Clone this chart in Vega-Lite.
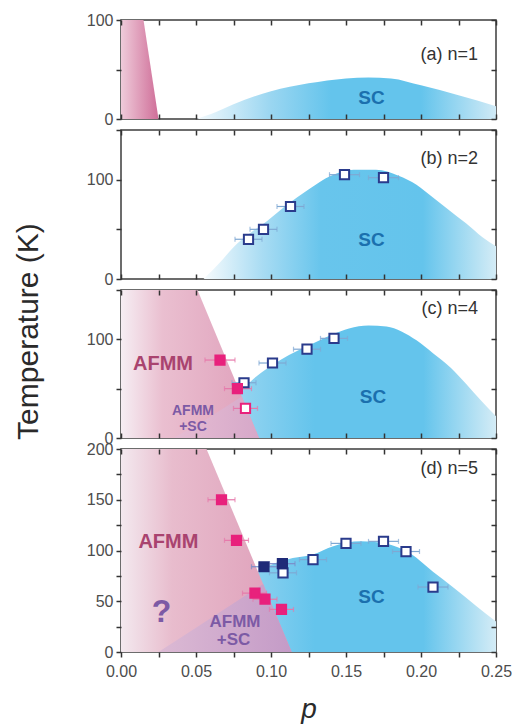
{
"$schema": "https://vega.github.io/schema/vega-lite/v6.json",
"padding": {"left": 12, "top": 11, "right": 0, "bottom": 5},
"background": "white",
"spacing": 11,
"bounds": "flush",
"config": {
  "font": "Liberation Sans",
  "view": {"stroke": "#3c3c3c", "strokeWidth": 1.5},
  "axis": {"domain": false, "grid": false, "ticks": true, "labelFont": "Liberation Sans", "labelFontSize": 16, "labelColor": "#4d4d4d", "tickColor": "#333333", "tickOpacity": 1, "tickWidth": 1.5, "tickSize": 5, "offset": 0, "zindex": 2, "labelFlush": false, "labelOverlap": false, "labelBound": false, "titleFont": "Liberation Sans"},
  "text": {"font": "Liberation Sans"}
},
"datasets": {
  "pinkA": [{"p": 0, "T": 100}, {"p": 0.015, "T": 100}, {"p": 0.025, "T": 0}],
  "scA": [{"p": 0.05, "T": 0}, {"p": 0.06, "T": 5}, {"p": 0.075, "T": 15}, {"p": 0.1, "T": 28}, {"p": 0.125, "T": 36}, {"p": 0.15, "T": 41}, {"p": 0.165, "T": 42}, {"p": 0.18, "T": 41}, {"p": 0.2, "T": 34}, {"p": 0.225, "T": 24}, {"p": 0.25, "T": 13}],
  "scB": [{"p": 0.055, "T": 0}, {"p": 0.065, "T": 15}, {"p": 0.075, "T": 32}, {"p": 0.085, "T": 45}, {"p": 0.097, "T": 58}, {"p": 0.11, "T": 74}, {"p": 0.125, "T": 90}, {"p": 0.14, "T": 104}, {"p": 0.155, "T": 110}, {"p": 0.17, "T": 110}, {"p": 0.185, "T": 104}, {"p": 0.197, "T": 95}, {"p": 0.208, "T": 82}, {"p": 0.219, "T": 69}, {"p": 0.23, "T": 56}, {"p": 0.241, "T": 42}, {"p": 0.25, "T": 33}],
  "scC": [{"p": 0.03, "T": 0}, {"p": 0.06, "T": 25}, {"p": 0.08, "T": 48}, {"p": 0.09, "T": 62}, {"p": 0.101, "T": 74}, {"p": 0.112, "T": 84}, {"p": 0.124, "T": 93}, {"p": 0.141, "T": 105}, {"p": 0.152, "T": 111}, {"p": 0.165, "T": 114}, {"p": 0.177, "T": 113}, {"p": 0.187, "T": 108}, {"p": 0.197, "T": 99}, {"p": 0.208, "T": 86}, {"p": 0.22, "T": 71}, {"p": 0.23, "T": 55}, {"p": 0.24, "T": 38}, {"p": 0.25, "T": 22}],
  "pinkC": [{"p": 0, "T": 150}, {"p": 0.051, "T": 150}, {"p": 0.092, "T": 0}],
  "mixC": [{"p": 0.035, "T": 0}, {"p": 0.058, "T": 20}, {"p": 0.0805, "T": 42}, {"p": 0.092, "T": 0}],
  "scD": [{"p": 0.03, "T": 0}, {"p": 0.06, "T": 30}, {"p": 0.085, "T": 70}, {"p": 0.095, "T": 82}, {"p": 0.11, "T": 91}, {"p": 0.128, "T": 96}, {"p": 0.141, "T": 104}, {"p": 0.16, "T": 109}, {"p": 0.176, "T": 107}, {"p": 0.193, "T": 97}, {"p": 0.208, "T": 79}, {"p": 0.222, "T": 63}, {"p": 0.237, "T": 45}, {"p": 0.25, "T": 30}],
  "pinkD": [{"p": 0, "T": 200}, {"p": 0.057, "T": 200}, {"p": 0.1138, "T": 0}],
  "mixD": [{"p": 0.025, "T": 0}, {"p": 0.05, "T": 24}, {"p": 0.073, "T": 46}, {"p": 0.0948, "T": 67}, {"p": 0.1138, "T": 0}],
  "ptsB": [
    {"p": 0.085, "T": 40, "lo": 0.076, "hi": 0.094, "kind": "open"},
    {"p": 0.095, "T": 50, "lo": 0.086, "hi": 0.104, "kind": "open"},
    {"p": 0.113, "T": 73, "lo": 0.104, "hi": 0.122, "kind": "open"},
    {"p": 0.149, "T": 105, "lo": 0.139, "hi": 0.159, "kind": "open"},
    {"p": 0.175, "T": 102, "lo": 0.165, "hi": 0.185, "kind": "open"}
  ],
  "ptsC": [
    {"p": 0.082, "T": 56, "lo": 0.074, "hi": 0.09, "kind": "open"},
    {"p": 0.101, "T": 76, "lo": 0.092, "hi": 0.11, "kind": "open"},
    {"p": 0.124, "T": 90, "lo": 0.115, "hi": 0.133, "kind": "open"},
    {"p": 0.142, "T": 101, "lo": 0.133, "hi": 0.151, "kind": "open"},
    {"p": 0.066, "T": 79, "lo": 0.056, "hi": 0.076, "kind": "pink"},
    {"p": 0.0776, "T": 50, "lo": 0.069, "hi": 0.087, "kind": "pink"},
    {"p": 0.083, "T": 30, "lo": 0.075, "hi": 0.091, "kind": "wp"}
  ],
  "ptsD": [
    {"p": 0.067, "T": 150, "lo": 0.058, "hi": 0.076, "kind": "pink"},
    {"p": 0.077, "T": 110, "lo": 0.069, "hi": 0.085, "kind": "pink"},
    {"p": 0.0893, "T": 58, "lo": 0.081, "hi": 0.097, "kind": "pink"},
    {"p": 0.096, "T": 52, "lo": 0.088, "hi": 0.104, "kind": "pink"},
    {"p": 0.107, "T": 42, "lo": 0.099, "hi": 0.115, "kind": "pink"},
    {"p": 0.108, "T": 78, "lo": 0.099, "hi": 0.117, "kind": "open"},
    {"p": 0.128, "T": 91, "lo": 0.119, "hi": 0.137, "kind": "open"},
    {"p": 0.15, "T": 107, "lo": 0.14, "hi": 0.16, "kind": "open"},
    {"p": 0.175, "T": 109, "lo": 0.165, "hi": 0.185, "kind": "open"},
    {"p": 0.19, "T": 99, "lo": 0.181, "hi": 0.199, "kind": "open"},
    {"p": 0.208, "T": 64, "lo": 0.198, "hi": 0.218, "kind": "open"},
    {"p": 0.0953, "T": 84, "lo": 0.087, "hi": 0.104, "kind": "navy"},
    {"p": 0.1076, "T": 87, "lo": 0.099, "hi": 0.116, "kind": "navy"}
  ],
  "txtA": [{"p": 0.238, "T": 65, "text": "(a) n=1", "s": "lab"}, {"p": 0.167, "T": 21, "text": "SC", "s": "sc"}],
  "txtB": [{"p": 0.238, "T": 121, "text": "(b) n=2", "s": "lab"}, {"p": 0.167, "T": 39, "text": "SC", "s": "sc"}],
  "txtC": [{"p": 0.238, "T": 131, "text": "(c) n=4", "s": "lab"}, {"p": 0.168, "T": 42, "text": "SC", "s": "sc"}, {"p": 0.028, "T": 75, "text": "AFMM", "s": "af"}, {"p": 0.048, "T": 27, "text": "AFMM", "s": "mix"}, {"p": 0.048, "T": 11, "text": "+SC", "s": "mix"}],
  "txtD": [{"p": 0.238, "T": 180, "text": "(d) n=5", "s": "lab"}, {"p": 0.167, "T": 54, "text": "SC", "s": "sc"}, {"p": 0.0316, "T": 108, "text": "AFMM", "s": "af"}, {"p": 0.076, "T": 30, "text": "AFMM", "s": "mix2"}, {"p": 0.075, "T": 12, "text": "+SC", "s": "mix2"}, {"p": 0.027, "T": 39, "text": "?", "s": "q"}],
  "dummy": [{"p": 0.1, "T": 10}]
},
"vconcat": [
  {
    "width": 375, "height": 99,
    "resolve": {"axis": {"x": "independent", "y": "independent"}},
    "layer": [
      {
        "encoding": {
          "x": {"field": "p", "type": "quantitative", "title": null, "scale": {"domain": [0, 0.25], "nice": false}, "axis": {"orient": "bottom", "offset": -5, "zindex": 2, "values": [0, 0.025, 0.05, 0.075, 0.1, 0.125, 0.15, 0.175, 0.2, 0.225, 0.25], "labels": false}},
          "y": {"field": "T", "type": "quantitative", "title": null, "scale": {"domain": [0, 100], "nice": false}, "axis": {"orient": "left", "zindex": 2, "values": [0, 50, 100], "labelExpr": "datum.value==50 ? '' : datum.label", "labelPadding": 3}}
        },
        "layer": [
          {"data": {"name": "scA"}, "mark": {"type": "area", "interpolate": "monotone", "clip": true, "color": {"gradient": "linear", "x1": 0, "x2": 1, "y1": 0, "y2": 0, "stops": [{"offset": 0, "color": "#f4fafd"}, {"offset": 0.25, "color": "#9ad6f1"}, {"offset": 0.45, "color": "#64c4ec"}, {"offset": 0.75, "color": "#64c4ec"}, {"offset": 1, "color": "#d0eaf6"}]}}, "encoding": {"y2": {"datum": 0}}},
          {"data": {"name": "pinkA"}, "mark": {"type": "area", "clip": true, "color": {"gradient": "linear", "x1": 0, "x2": 1, "y1": 0, "y2": 0, "stops": [{"offset": 0, "color": "#efcbda"}, {"offset": 1, "color": "#cf6e98"}]}}, "encoding": {"y2": {"datum": 0}}},
          {"data": {"name": "txtA"}, "transform": [{"filter": {"field": "s", "equal": "lab"}}], "mark": {"type": "text", "align": "right", "baseline": "middle", "fontSize": 18, "color": "#333333"}, "encoding": {"text": {"field": "text"}}},
          {"data": {"name": "txtA"}, "transform": [{"filter": {"field": "s", "equal": "sc"}}], "mark": {"type": "text", "align": "center", "baseline": "middle", "fontSize": 19, "fontWeight": "bold", "color": "#1b70ae"}, "encoding": {"text": {"field": "text"}}}
        ]
      },
      {"data": {"name": "dummy"}, "mark": {"type": "point", "opacity": 0}, "encoding": {
        "x": {"field": "p", "type": "quantitative", "title": null, "scale": {"domain": [0, 0.25], "nice": false}, "axis": {"orient": "top", "offset": -5, "zindex": 2, "values": [0, 0.025, 0.05, 0.075, 0.1, 0.125, 0.15, 0.175, 0.2, 0.225, 0.25], "labels": false}},
        "y": {"field": "T", "type": "quantitative", "title": null, "scale": {"domain": [0, 100], "nice": false}, "axis": {"orient": "right", "offset": -5, "zindex": 2, "values": [0, 50, 100], "labels": false}}}}
    ]
  },
  {
    "width": 375, "height": 149,
    "resolve": {"axis": {"x": "independent", "y": "independent"}},
    "layer": [
      {
        "encoding": {
          "x": {"field": "p", "type": "quantitative", "title": null, "scale": {"domain": [0, 0.25], "nice": false}, "axis": {"orient": "bottom", "offset": -5, "zindex": 2, "values": [0, 0.025, 0.05, 0.075, 0.1, 0.125, 0.15, 0.175, 0.2, 0.225, 0.25], "labels": false}},
          "y": {"field": "T", "type": "quantitative", "title": null, "scale": {"domain": [0, 150], "nice": false}, "axis": {"orient": "left", "zindex": 2, "values": [0, 50, 100, 150], "labelExpr": "datum.value==0 || datum.value==100 ? datum.label : ''", "labelPadding": 3}}
        },
        "layer": [
          {"data": {"name": "scB"}, "mark": {"type": "area", "interpolate": "monotone", "clip": true, "color": {"gradient": "linear", "x1": 0, "x2": 1, "y1": 0, "y2": 0, "stops": [{"offset": 0, "color": "#f7fbfd"}, {"offset": 0.2, "color": "#a9dcf3"}, {"offset": 0.4, "color": "#68c5ec"}, {"offset": 0.75, "color": "#64c4ec"}, {"offset": 1, "color": "#d4ecf6"}]}}, "encoding": {"y2": {"datum": 0}}},
          {"data": {"name": "ptsB"}, "mark": {"type": "errorbar", "ticks": true, "thickness": 1.2}, "encoding": {"x": {"field": "lo", "type": "quantitative", "title": null, "scale": {"domain": [0, 0.25], "nice": false}}, "x2": {"field": "hi"}, "color": {"field": "kind", "type": "nominal", "legend": null, "scale": {"domain": ["open", "pink", "navy", "wp"], "range": ["#7fa8d3", "#e678aa", "#7a8cc8", "#e678aa"]}}}},
          {"data": {"name": "ptsB"}, "mark": {"type": "point", "shape": "square", "size": 85, "strokeWidth": 2, "opacity": 1}, "encoding": {"fill": {"field": "kind", "type": "nominal", "legend": null, "scale": {"domain": ["open", "pink", "navy", "wp"], "range": ["#ffffff", "#e8217c", "#1f2a78", "#ffffff"]}}, "stroke": {"field": "kind", "type": "nominal", "legend": null, "scale": {"domain": ["open", "pink", "navy", "wp"], "range": ["#2a3b8c", "#e8217c", "#1f2a78", "#e8217c"]}}}},
          {"data": {"name": "txtB"}, "transform": [{"filter": {"field": "s", "equal": "lab"}}], "mark": {"type": "text", "align": "right", "baseline": "middle", "fontSize": 18, "color": "#333333"}, "encoding": {"text": {"field": "text"}}},
          {"data": {"name": "txtB"}, "transform": [{"filter": {"field": "s", "equal": "sc"}}], "mark": {"type": "text", "align": "center", "baseline": "middle", "fontSize": 19, "fontWeight": "bold", "color": "#1b70ae"}, "encoding": {"text": {"field": "text"}}}
        ]
      },
      {"data": {"name": "dummy"}, "mark": {"type": "point", "opacity": 0}, "encoding": {
        "x": {"field": "p", "type": "quantitative", "title": null, "scale": {"domain": [0, 0.25], "nice": false}, "axis": {"orient": "top", "offset": -5, "zindex": 2, "values": [0, 0.025, 0.05, 0.075, 0.1, 0.125, 0.15, 0.175, 0.2, 0.225, 0.25], "labels": false}},
        "y": {"field": "T", "type": "quantitative", "title": null, "scale": {"domain": [0, 150], "nice": false}, "axis": {"orient": "right", "offset": -5, "zindex": 2, "values": [0, 50, 100, 150], "labels": false}}}}
    ]
  },
  {
    "width": 375, "height": 148,
    "resolve": {"axis": {"x": "independent", "y": "independent"}},
    "layer": [
      {
        "encoding": {
          "x": {"field": "p", "type": "quantitative", "title": null, "scale": {"domain": [0, 0.25], "nice": false}, "axis": {"orient": "bottom", "offset": -5, "zindex": 2, "values": [0, 0.025, 0.05, 0.075, 0.1, 0.125, 0.15, 0.175, 0.2, 0.225, 0.25], "labels": false}},
          "y": {"field": "T", "type": "quantitative", "title": "Temperature (K)", "scale": {"domain": [0, 150], "nice": false}, "axis": {"orient": "left", "zindex": 2, "values": [0, 50, 100, 150], "labelExpr": "datum.value==0 || datum.value==100 ? datum.label : ''", "labelPadding": 3, "title": "Temperature (K)", "titleFontSize": 30, "titleFontWeight": "normal", "titleColor": "#2a2a2a", "titleX": -84, "titleY": 41, "titleAngle": -90, "titleBaseline": "alphabetic", "titleAlign": "center"}}
        },
        "layer": [
          {"data": {"name": "scC"}, "mark": {"type": "area", "interpolate": "monotone", "clip": true, "color": {"gradient": "linear", "x1": 0, "x2": 1, "y1": 0, "y2": 0, "stops": [{"offset": 0, "color": "#d5eef8"}, {"offset": 0.25, "color": "#8ed2f0"}, {"offset": 0.45, "color": "#64c4ec"}, {"offset": 0.78, "color": "#64c4ec"}, {"offset": 1, "color": "#d4ecf6"}]}}, "encoding": {"y2": {"datum": 0}}},
          {"data": {"name": "pinkC"}, "mark": {"type": "area", "clip": true, "color": {"gradient": "linear", "x1": 0, "x2": 1, "y1": 0, "y2": 0, "stops": [{"offset": 0, "color": "#f6eef3"}, {"offset": 0.3, "color": "#eabfd0"}, {"offset": 1, "color": "#df9fba"}]}}, "encoding": {"y2": {"datum": 0}}},
          {"data": {"name": "mixC"}, "mark": {"type": "area", "clip": true, "color": {"gradient": "linear", "x1": 0, "x2": 1, "y1": 0, "y2": 0, "stops": [{"offset": 0, "color": "#e6bdd3"}, {"offset": 1, "color": "#d6a8c9"}]}}, "encoding": {"y2": {"datum": 0}}},
          {"data": {"name": "ptsC"}, "mark": {"type": "errorbar", "ticks": true, "thickness": 1.2}, "encoding": {"x": {"field": "lo", "type": "quantitative", "title": null, "scale": {"domain": [0, 0.25], "nice": false}}, "x2": {"field": "hi"}, "color": {"field": "kind", "type": "nominal", "legend": null, "scale": {"domain": ["open", "pink", "navy", "wp"], "range": ["#7fa8d3", "#e678aa", "#7a8cc8", "#e678aa"]}}}},
          {"data": {"name": "ptsC"}, "mark": {"type": "point", "shape": "square", "size": 85, "strokeWidth": 2, "opacity": 1}, "encoding": {"fill": {"field": "kind", "type": "nominal", "legend": null, "scale": {"domain": ["open", "pink", "navy", "wp"], "range": ["#ffffff", "#e8217c", "#1f2a78", "#ffffff"]}}, "stroke": {"field": "kind", "type": "nominal", "legend": null, "scale": {"domain": ["open", "pink", "navy", "wp"], "range": ["#2a3b8c", "#e8217c", "#1f2a78", "#e8217c"]}}}},
          {"data": {"name": "txtC"}, "transform": [{"filter": {"field": "s", "equal": "lab"}}], "mark": {"type": "text", "align": "right", "baseline": "middle", "fontSize": 18, "color": "#333333"}, "encoding": {"text": {"field": "text"}}},
          {"data": {"name": "txtC"}, "transform": [{"filter": {"field": "s", "equal": "sc"}}], "mark": {"type": "text", "align": "center", "baseline": "middle", "fontSize": 19, "fontWeight": "bold", "color": "#1b70ae"}, "encoding": {"text": {"field": "text"}}},
          {"data": {"name": "txtC"}, "transform": [{"filter": {"field": "s", "equal": "af"}}], "mark": {"type": "text", "align": "center", "baseline": "middle", "fontSize": 20, "fontWeight": "bold", "color": "#a9436f"}, "encoding": {"text": {"field": "text"}}},
          {"data": {"name": "txtC"}, "transform": [{"filter": {"field": "s", "equal": "mix"}}], "mark": {"type": "text", "align": "center", "baseline": "middle", "fontSize": 14, "fontWeight": "bold", "color": "#7c5aa5"}, "encoding": {"text": {"field": "text"}}}
        ]
      },
      {"data": {"name": "dummy"}, "mark": {"type": "point", "opacity": 0}, "encoding": {
        "x": {"field": "p", "type": "quantitative", "title": null, "scale": {"domain": [0, 0.25], "nice": false}, "axis": {"orient": "top", "offset": -5, "zindex": 2, "values": [0, 0.025, 0.05, 0.075, 0.1, 0.125, 0.15, 0.175, 0.2, 0.225, 0.25], "labels": false}},
        "y": {"field": "T", "type": "quantitative", "title": null, "scale": {"domain": [0, 150], "nice": false}, "axis": {"orient": "right", "offset": -5, "zindex": 2, "values": [0, 50, 100, 150], "labels": false}}}}
    ]
  },
  {
    "width": 375, "height": 203,
    "resolve": {"axis": {"x": "independent", "y": "independent"}},
    "layer": [
      {
        "encoding": {
          "x": {"field": "p", "type": "quantitative", "title": "p", "scale": {"domain": [0, 0.25], "nice": false}, "axis": {"orient": "bottom", "zindex": 2, "values": [0, 0.025, 0.05, 0.075, 0.1, 0.125, 0.15, 0.175, 0.2, 0.225, 0.25], "labelExpr": "round(datum.value*1000)%50==0 ? format(datum.value,'.2f') : ''", "labelPadding": 6, "title": "p", "titleFontSize": 28, "titleFontStyle": "italic", "titleFontWeight": "normal", "titleColor": "#2a2a2a", "titleY": 65, "titleBaseline": "alphabetic"}},
          "y": {"field": "T", "type": "quantitative", "title": null, "scale": {"domain": [0, 200], "nice": false}, "axis": {"orient": "left", "zindex": 2, "values": [0, 25, 50, 75, 100, 125, 150, 175, 200], "labelExpr": "datum.value%50==0 ? datum.label : ''", "labelPadding": 3}}
        },
        "layer": [
          {"data": {"name": "scD"}, "mark": {"type": "area", "interpolate": "monotone", "clip": true, "color": {"gradient": "linear", "x1": 0, "x2": 1, "y1": 0, "y2": 0, "stops": [{"offset": 0, "color": "#d5eef8"}, {"offset": 0.25, "color": "#8ed2f0"}, {"offset": 0.45, "color": "#64c4ec"}, {"offset": 0.78, "color": "#64c4ec"}, {"offset": 1, "color": "#d4ecf6"}]}}, "encoding": {"y2": {"datum": 0}}},
          {"data": {"name": "pinkD"}, "mark": {"type": "area", "clip": true, "color": {"gradient": "linear", "x1": 0, "x2": 1, "y1": 0, "y2": 0, "stops": [{"offset": 0, "color": "#f3e9ef"}, {"offset": 0.3, "color": "#e8bccd"}, {"offset": 1, "color": "#de9db8"}]}}, "encoding": {"y2": {"datum": 0}}},
          {"data": {"name": "mixD"}, "mark": {"type": "area", "clip": true, "color": {"gradient": "linear", "x1": 0, "x2": 1, "y1": 0, "y2": 0, "stops": [{"offset": 0, "color": "#dcbad4"}, {"offset": 1, "color": "#c49bc7"}]}}, "encoding": {"y2": {"datum": 0}}},
          {"data": {"name": "ptsD"}, "mark": {"type": "errorbar", "ticks": true, "thickness": 1.2}, "encoding": {"x": {"field": "lo", "type": "quantitative", "title": "p", "scale": {"domain": [0, 0.25], "nice": false}}, "x2": {"field": "hi"}, "color": {"field": "kind", "type": "nominal", "legend": null, "scale": {"domain": ["open", "pink", "navy", "wp"], "range": ["#7fa8d3", "#e678aa", "#7a8cc8", "#e678aa"]}}}},
          {"data": {"name": "ptsD"}, "mark": {"type": "point", "shape": "square", "size": 85, "strokeWidth": 2, "opacity": 1}, "encoding": {"fill": {"field": "kind", "type": "nominal", "legend": null, "scale": {"domain": ["open", "pink", "navy", "wp"], "range": ["#ffffff", "#e8217c", "#1f2a78", "#ffffff"]}}, "stroke": {"field": "kind", "type": "nominal", "legend": null, "scale": {"domain": ["open", "pink", "navy", "wp"], "range": ["#2a3b8c", "#e8217c", "#1f2a78", "#e8217c"]}}}},
          {"data": {"name": "txtD"}, "transform": [{"filter": {"field": "s", "equal": "lab"}}], "mark": {"type": "text", "align": "right", "baseline": "middle", "fontSize": 18, "color": "#333333"}, "encoding": {"text": {"field": "text"}}},
          {"data": {"name": "txtD"}, "transform": [{"filter": {"field": "s", "equal": "sc"}}], "mark": {"type": "text", "align": "center", "baseline": "middle", "fontSize": 19, "fontWeight": "bold", "color": "#1b70ae"}, "encoding": {"text": {"field": "text"}}},
          {"data": {"name": "txtD"}, "transform": [{"filter": {"field": "s", "equal": "af"}}], "mark": {"type": "text", "align": "center", "baseline": "middle", "fontSize": 20, "fontWeight": "bold", "color": "#a9436f"}, "encoding": {"text": {"field": "text"}}},
          {"data": {"name": "txtD"}, "transform": [{"filter": {"field": "s", "equal": "mix2"}}], "mark": {"type": "text", "align": "center", "baseline": "middle", "fontSize": 17, "fontWeight": "bold", "color": "#7c5aa5"}, "encoding": {"text": {"field": "text"}}},
          {"data": {"name": "txtD"}, "transform": [{"filter": {"field": "s", "equal": "q"}}], "mark": {"type": "text", "align": "center", "baseline": "middle", "fontSize": 32, "fontWeight": "bold", "color": "#7c5aa5"}, "encoding": {"text": {"field": "text"}}}
        ]
      },
      {"data": {"name": "dummy"}, "mark": {"type": "point", "opacity": 0}, "encoding": {
        "x": {"field": "p", "type": "quantitative", "title": null, "scale": {"domain": [0, 0.25], "nice": false}, "axis": {"orient": "top", "offset": -5, "zindex": 2, "values": [0, 0.025, 0.05, 0.075, 0.1, 0.125, 0.15, 0.175, 0.2, 0.225, 0.25], "labels": false}},
        "y": {"field": "T", "type": "quantitative", "title": null, "scale": {"domain": [0, 200], "nice": false}, "axis": {"orient": "right", "offset": -5, "zindex": 2, "values": [0, 25, 50, 75, 100, 125, 150, 175, 200], "labels": false}}}}
    ]
  }
]
}
